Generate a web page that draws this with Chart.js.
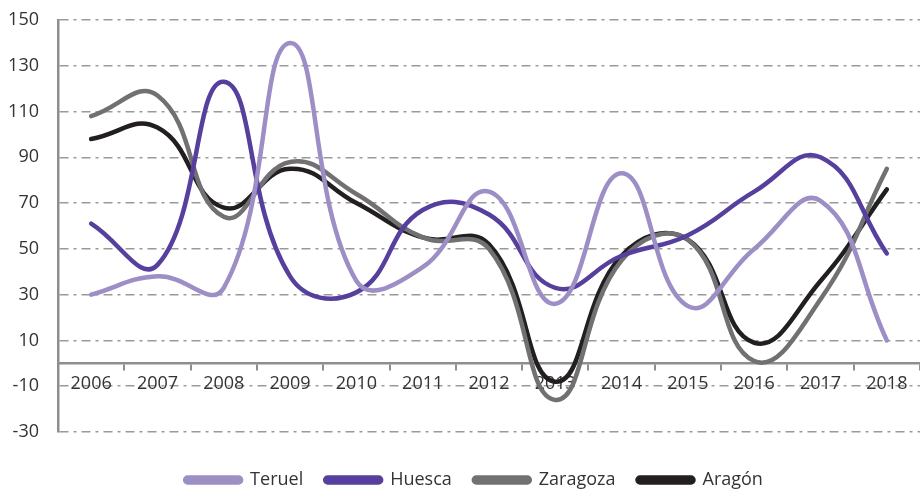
<!DOCTYPE html>
<html>
<head>
<meta charset="utf-8">
<script src="https://cdn.jsdelivr.net/npm/chart.js@4/dist/chart.umd.min.js"></script>
<style>
  html, body { margin: 0; padding: 0; background: #fff; }
  #wrap { width: 920px; height: 490px; }
</style>
</head>
<body>
<div id="wrap"><canvas id="chart"></canvas></div>
<script>
// Years on the category axis
const years = ["2006", "2007", "2008", "2009", "2010", "2011", "2012",
               "2013", "2014", "2015", "2016", "2017", "2018"];

// Series per province
const teruel   = [30, 38, 33, 140, 36, 42, 75, 26, 83, 25, 50, 71, 10];
const huesca   = [61, 43, 123, 38, 31, 67, 65, 33, 47, 56, 75, 90, 48];
const zaragoza = [108, 117, 64, 88, 74, 55, 50, -16, 45, 54, 1, 28, 85];
const aragon   = [98, 103, 68, 85, 70, 55, 52, -8, 47, 54, 9, 36, 76];

// Y axis range
const yMin = -30;
const yMax = 150;
const yStep = 20;

const gridGray = "#9a9a9a";
const axisGray = "#8e8e90";
const textColor = "#333333";
const fontFamily = "'Open Sans', sans-serif";

function line(label, data, color) {
    return {
        label: label,
        data: data,
        borderColor: color,
        backgroundColor: color,
        borderWidth: 4.5,
        pointRadius: 0,
        tension: 0.45,
        fill: false,
        borderCapStyle: "round",
    };
}

// Legend keeps a fixed height and sits a bit lower / right of the default spot
const legendPlacement = {
    id: "legendPlacement",
    beforeInit(chart) {
        const fit = chart.legend.fit;
        chart.legend.fit = function () {
            fit.call(this);
            this.height = 58;
        };
    },
    afterLayout(chart) {
        const lg = chart.legend;
        lg.top += 17;
        lg.bottom += 17;
        lg.left += 14;
        lg.right += 14;
    },
};

new Chart(document.getElementById("chart"), {
    type: "line",
    data: {
        labels: years,
        datasets: [
            line("Teruel", teruel, "#9d8fc5"),
            line("Huesca", huesca, "#573f9d"),
            line("Zaragoza", zaragoza, "#717073"),
            line("Aragón", aragon, "#231f20"),
        ],
    },
    options: {
        responsive: true,
        maintainAspectRatio: false,
        animation: false,
        layout: { padding: { top: 20, right: 0, bottom: 0, left: 0 } },
        plugins: {
            tooltip: { enabled: false },
            legend: {
                position: "bottom",
                labels: {
                    boxWidth: 56,
                    boxHeight: 5,
                    padding: 22,
                    useBorderRadius: true,
                    borderRadius: 2.5,
                    color: textColor,
                    font: { family: fontFamily, size: 18 },
                },
            },
        },
        scales: {
            x: {
                position: { y: 0 },
                offset: true,
                border: { display: true, color: axisGray, width: 2.5 },
                grid: {
                    offset: true,
                    drawOnChartArea: false,
                    drawTicks: true,
                    tickLength: 6,
                    color: axisGray,
                    lineWidth: 2,
                },
                ticks: {
                    color: textColor,
                    padding: 4,
                    maxRotation: 0,
                    font: { family: fontFamily, size: 18 },
                },
            },
            y: {
                min: yMin,
                max: yMax,
                afterFit: (scale) => {
                    scale.width = 58;
                    scale.paddingTop = 0;
                    scale.paddingBottom = 0;
                },
                // dash-dot pattern for the horizontal gridlines
                border: { display: true, color: axisGray, width: 2.5, dash: [9, 5, 3, 5] },
                grid: {
                    color: gridGray,
                    lineWidth: 1.5,
                    drawTicks: false,
                },
                ticks: {
                    stepSize: yStep,
                    padding: 19,
                    color: textColor,
                    font: { family: fontFamily, size: 18 },
                },
            },
        },
    },
    plugins: [legendPlacement],
});
</script>
</body>
</html>
